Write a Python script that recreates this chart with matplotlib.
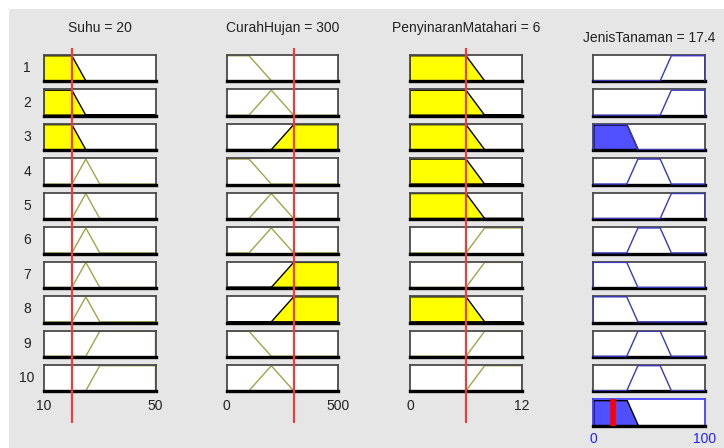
import numpy as np
import matplotlib
matplotlib.use("Agg")
import matplotlib.pyplot as plt
from matplotlib.patches import Rectangle

plt.rcParams['font.family'] = ['Liberation Sans', 'DejaVu Sans']

# ---- fuzzy system definition ----
input_names = ["Suhu", "CurahHujan", "PenyinaranMatahari"]
input_values = [20, 300, 6]
input_ranges = [(10, 50), (0, 500), (0, 12)]
input_tick_labels = [["10", "50"], ["0", "500"], ["0", "12"]]

suhu_mfs = {"rendah": [10, 10, 20, 25], "sedang": [20, 25, 25, 30], "tinggi": [25, 30, 50, 50]}
curah_mfs = {"rendah": [0, 0, 100, 200], "sedang": [100, 200, 200, 300], "tinggi": [200, 300, 500, 500]}
sinar_mfs = {"rendah": [0, 0, 6, 8], "tinggi": [6, 8, 12, 12]}
input_mfs = [suhu_mfs, curah_mfs, sinar_mfs]

output_name = "JenisTanaman"
output_value = 17.4
output_range = (0, 100)
output_tick_labels = ["0", "100"]
jenis_mfs = {"rendah": [0, 0, 30, 40], "sedang": [30, 40, 60, 70], "tinggi": [60, 70, 100, 100]}

rule_suhu = ["rendah", "rendah", "rendah", "sedang", "sedang", "sedang", "sedang", "sedang", "tinggi", "tinggi"]
rule_curah = ["rendah", "sedang", "tinggi", "rendah", "sedang", "sedang", "tinggi", "tinggi", "rendah", "sedang"]
rule_sinar = ["rendah", "rendah", "rendah", "rendah", "rendah", "tinggi", "tinggi", "rendah", "tinggi", "tinggi"]
rule_jenis = ["tinggi", "tinggi", "rendah", "sedang", "tinggi", "sedang", "rendah", "rendah", "sedang", "sedang"]
rule_inputs = [rule_suhu, rule_curah, rule_sinar]


def trap(x, p):
    a, b, c, d = p
    x = np.asarray(x, dtype=float)
    y = np.zeros_like(x)
    up = (x >= a) & (x < b)
    y[up] = (x[up] - a) / (b - a)
    y[(x >= b) & (x <= c)] = 1.0
    dn = (x > c) & (x <= d)
    y[dn] = (d - x[dn]) / (d - c)
    return y


def trap_outline(p, lo, hi):
    a, b, c, d = p
    return [lo, a, b, c, d, hi], [0, 0, 1, 1, 0, 0]


# ---- layout (pixels) ----
W, H = 724, 448
fig = plt.figure(figsize=(W / 100, H / 100), dpi=100, facecolor="white")
fig.patches.append(Rectangle((9 / W, 0), 1, 1 - 9 / H, transform=fig.transFigure,
                             facecolor="#e6e6e6", edgecolor="none", zorder=-10))

col_x0 = [44, 226.7, 410.3, 593.3]
col_w = 111.5
row_top0 = 55
row_pitch = 34.44
row_h = 26.5
n_rules = len(rule_jenis)

YEL = "#ffff00"
OLIVE = "#a3a34a"
BLUE_LINE = "#3838c0"
BLUE_FILL = "#5050ff"
RED = "#ff3535"
TXT = "#222222"


def add_box(x0, top, w, h, edge="#4a4a4a"):
    ax = fig.add_axes([x0 / W, 1 - (top + h) / H, w / W, h / H])
    ax.set_facecolor("white")
    ax.set_xticks([])
    ax.set_yticks([])
    for s in ("top", "left", "right"):
        ax.spines[s].set_color(edge)
        ax.spines[s].set_linewidth(1.3)
    ax.spines["bottom"].set_color("black")
    ax.spines["bottom"].set_linewidth(2.4)
    ax.set_ylim(-0.03, 1.03)
    return ax


# input columns
for j in range(3):
    lo, hi = input_ranges[j]
    v = input_values[j]
    for i in range(n_rules):
        top = row_top0 + i * row_pitch
        ax = add_box(col_x0[j], top, col_w, row_h)
        ax.set_xlim(lo, hi)
        p = input_mfs[j][rule_inputs[j][i]]
        mu = float(trap([v], p)[0])
        xs, ys = trap_outline(p, lo, hi)
        if mu > 0:
            ax.fill(xs, ys, facecolor=YEL, edgecolor="black", linewidth=1.0, zorder=2)
        else:
            ax.plot(xs, ys, color=OLIVE, linewidth=1.0, zorder=2)
        if j == 0:
            fig.text(27 / W, 1 - (top + row_h / 2) / H, str(i + 1), ha="center",
                     va="center", fontsize=10, color=TXT)
    # range labels under the last row
    ybot = row_top0 + (n_rules - 1) * row_pitch + row_h
    fig.text(col_x0[j] / W, 1 - (ybot + 14.5) / H, input_tick_labels[j][0],
             ha="center", va="center", fontsize=10, color=TXT)
    fig.text((col_x0[j] + col_w) / W, 1 - (ybot + 14.5) / H, input_tick_labels[j][1],
             ha="center", va="center", fontsize=10, color=TXT)
    fig.text((col_x0[j] + col_w / 2) / W, 1 - 28 / H, f"{input_names[j]} = {v:g}",
             ha="center", va="center", fontsize=10, color=TXT)
    # current input value marker
    ov = fig.add_axes([col_x0[j] / W, 1 - 423 / H, col_w / W, (423 - 48) / H])
    ov.set_xlim(lo, hi)
    ov.set_ylim(0, 1)
    ov.axis("off")
    ov.patch.set_alpha(0)
    ov.axvline(v, color=RED, linewidth=1.5)

# firing strength of each rule (min of antecedents)
weights = []
for i in range(n_rules):
    mus = [float(trap([input_values[j]], input_mfs[j][rule_inputs[j][i]])[0]) for j in range(3)]
    weights.append(min(mus))

# output column
olo, ohi = output_range
xg = np.linspace(olo, ohi, 401)
agg = np.zeros_like(xg)
for i in range(n_rules):
    top = row_top0 + i * row_pitch
    ax = add_box(col_x0[3], top, col_w, row_h)
    ax.set_xlim(olo, ohi)
    p = jenis_mfs[rule_jenis[i]]
    clipped = np.minimum(trap(xg, p), weights[i])
    agg = np.maximum(agg, clipped)
    if weights[i] > 0:
        ax.fill_between(xg, 0, clipped, facecolor=BLUE_FILL, edgecolor="black",
                        linewidth=1.0, zorder=2)
    xs, ys = trap_outline(p, olo, ohi)
    ax.plot(xs, ys, color=BLUE_LINE, linewidth=1.0, zorder=3)

# aggregated output
top = row_top0 + n_rules * row_pitch
ax = add_box(col_x0[3], top, col_w, row_h, edge="#4040ff")
ax.set_xlim(olo, ohi)
ax.fill_between(xg, 0, agg, facecolor=BLUE_FILL, edgecolor="black", linewidth=1.0, zorder=2)
ax.axvline(output_value, color="#ff0000", linewidth=4, zorder=3)
ybot = top + row_h
fig.text(col_x0[3] / W, 1 - (ybot + 13) / H, output_tick_labels[0], ha="center",
         va="center", fontsize=10, color="#2020ff")
fig.text((col_x0[3] + col_w) / W, 1 - (ybot + 13) / H, output_tick_labels[1], ha="center",
         va="center", fontsize=10, color="#2020ff")
fig.text((col_x0[3] + col_w / 2) / W, 1 - 37.7 / H, f"{output_name} = {output_value:g}",
         ha="center", va="center", fontsize=10, color=TXT)

fig.savefig("out.png", dpi=100, facecolor=fig.get_facecolor())
